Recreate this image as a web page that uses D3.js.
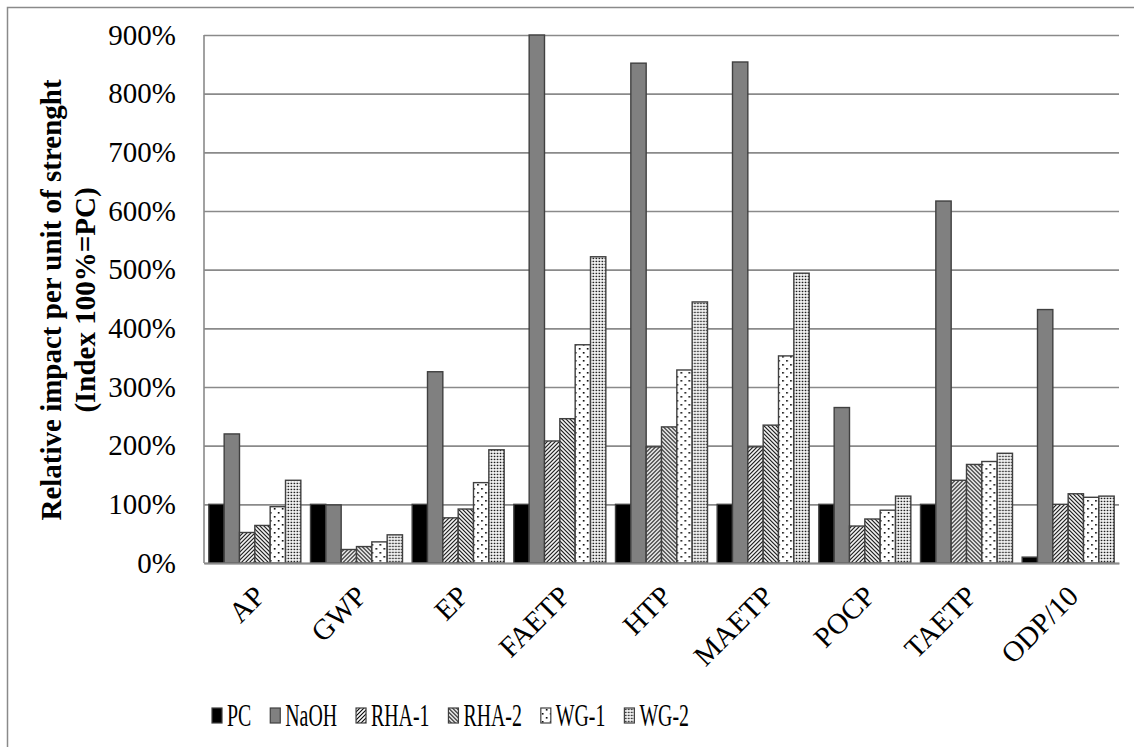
<!DOCTYPE html>
<html>
<head>
<meta charset="utf-8">
<script src="https://cdn.jsdelivr.net/npm/d3@7"></script>
<style>
  body { margin: 0; background: #fff; }
  text { font-family: "Liberation Serif", "Times New Roman", serif; fill: #000; }
</style>
</head>
<body>
<script>
// chart values
var categories = ["AP", "GWP", "EP", "FAETP", "HTP", "MAETP", "POCP", "TAETP", "ODP/10"];
var seriesNames = ["PC", "NaOH", "RHA-1", "RHA-2", "WG-1", "WG-2"];
var pcValues   = [100, 100, 100, 100, 100, 100, 100, 100, 10];
var naohValues = [220, 99, 326, 900, 852, 854, 265, 617, 432];
var rha1Values = [52, 23, 77, 208, 198, 198, 63, 141, 100];
var rha2Values = [64, 28, 92, 246, 232, 235, 75, 168, 118];
var wg1Values  = [96, 36, 137, 372, 329, 353, 90, 173, 112];
var wg2Values  = [141, 48, 193, 522, 445, 494, 114, 187, 114];
var yTicks = [0, 100, 200, 300, 400, 500, 600, 700, 800, 900];

var seriesValues = [pcValues, naohValues, rha1Values, rha2Values, wg1Values, wg2Values];
var fills = ["#000000", "#808080", "url(#rha1)", "url(#rha2)", "url(#wg1)", "url(#wg2)"];

var margin = {top: 35, right: 15, bottom: 184, left: 204};
var width = 1134 - margin.left - margin.right;
var height = 747 - margin.top - margin.bottom;

var root = d3.select("body")
  .append("svg")
    .attr("width", 1134)
    .attr("height", 747);

// patterns for the hatched / dotted series
var defs = root.append("defs");

var p1 = defs.append("pattern").attr("id", "rha1")
  .attr("patternUnits", "userSpaceOnUse").attr("width", 4).attr("height", 4);
p1.append("rect").attr("width", 4).attr("height", 4).attr("fill", "#fff");
p1.append("path").attr("d", "M-1,1 l2,-2 M0,4 l4,-4 M3,5 l2,-2")
  .attr("stroke", "#000").attr("stroke-width", 1.1);

var p2 = defs.append("pattern").attr("id", "rha2")
  .attr("patternUnits", "userSpaceOnUse").attr("width", 4).attr("height", 4);
p2.append("rect").attr("width", 4).attr("height", 4).attr("fill", "#fff");
p2.append("path").attr("d", "M-1,3 l2,2 M0,0 l4,4 M3,-1 l2,2")
  .attr("stroke", "#000").attr("stroke-width", 1.1);

var p3 = defs.append("pattern").attr("id", "wg1")
  .attr("patternUnits", "userSpaceOnUse").attr("width", 8).attr("height", 8);
p3.append("rect").attr("width", 8).attr("height", 8).attr("fill", "#fff");
p3.append("rect").attr("x", 1).attr("y", 1).attr("width", 1.6).attr("height", 1.6).attr("fill", "#000");
p3.append("rect").attr("x", 5).attr("y", 5).attr("width", 1.6).attr("height", 1.6).attr("fill", "#000");

var p4 = defs.append("pattern").attr("id", "wg2")
  .attr("patternUnits", "userSpaceOnUse").attr("width", 3).attr("height", 3);
p4.append("rect").attr("width", 3).attr("height", 3).attr("fill", "#fff");
p4.append("rect").attr("x", 0.7).attr("y", 0.7).attr("width", 1.5).attr("height", 1.5).attr("fill", "#000");

// outer chart frame (right and bottom edges fall outside the picture)
root.append("rect")
  .attr("x", 7.5).attr("y", 7.5)
  .attr("width", 1300).attr("height", 900)
  .attr("fill", "none")
  .attr("stroke", "#8a8a8a")
  .attr("stroke-width", 1.5);

var svg = root.append("g")
  .attr("transform", "translate(" + margin.left + "," + margin.top + ")");

// X scales: one band per category, one sub band per series
var x = d3.scaleBand()
  .domain(categories)
  .range([0, width])
  .paddingInner(0.095)
  .paddingOuter(0.0475);

var x1 = d3.scaleBand()
  .domain(seriesNames)
  .range([0, x.bandwidth()])
  .padding(0);

// Y scale
var y = d3.scaleLinear()
  .domain([0, 900])
  .range([height, 0]);

// gridlines + tick labels
var yAxis = svg.append("g")
  .call(d3.axisLeft(y)
    .tickValues(yTicks)
    .tickSize(-width)
    .tickPadding(28)
    .tickFormat((d) => d + "%"));
yAxis.select(".domain").remove();
yAxis.selectAll(".tick line")
  .attr("stroke", "#8a8a8a")
  .attr("stroke-width", 1.6);
yAxis.selectAll(".tick text")
  .style("font-family", "Liberation Serif")
  .style("font-size", "29px")
  .attr("fill", "#000");

// left axis line
svg.append("line")
  .attr("x1", 0).attr("x2", 0)
  .attr("y1", 0).attr("y2", height)
  .attr("stroke", "#8a8a8a")
  .attr("stroke-width", 1.6);

// bars
var groups = svg.append("g")
  .selectAll("g")
  .data(categories)
  .enter()
    .append("g")
    .attr("transform", (d) => "translate(" + x(d) + ",0)");

groups.selectAll("rect")
  .data((d, i) => seriesNames.map((s, j) => ({ series: s, idx: j, value: seriesValues[j][i] })))
  .enter()
    .append("rect")
    .attr("x", (d) => x1(d.series))
    .attr("y", (d) => y(d.value))
    .attr("width", x1.bandwidth())
    .attr("height", (d) => y(0) - y(d.value))
    .attr("fill", (d) => fills[d.idx])
    .attr("stroke", "#404040")
    .attr("stroke-width", 1.4);

// bottom axis
var xAxis = svg.append("g")
  .attr("transform", "translate(0," + height + ")")
  .call(d3.axisBottom(x).tickSize(0).tickFormat(""));
xAxis.select(".domain")
  .attr("stroke", "#8a8a8a")
  .attr("stroke-width", 2);

// rotated category labels
svg.append("g")
  .selectAll("text")
  .data(categories)
  .enter()
    .append("text")
    .attr("transform", (d) => "translate(" + (x(d) + x.bandwidth() / 2 - 2) + "," + (height + 21) + ") rotate(-45)")
    .attr("dy", "0.68em")
    .style("text-anchor", "end")
    .style("font-size", "29px")
    .text((d) => d);

// y axis title
var title = root.append("text")
  .attr("transform", "rotate(-90)")
  .style("text-anchor", "middle")
  .style("font-weight", "bold")
  .style("font-size", "29px");
title.append("tspan")
  .attr("x", -300).attr("y", 61)
  .text("Relative impact per unit of strenght");
title.append("tspan")
  .attr("x", -300).attr("y", 95)
  .text("(Index 100%=PC)");

// legend
var legend = root.append("g");
var lx = 212;
seriesNames.forEach((s, i) => {
  var item = legend.append("g").attr("transform", "translate(" + lx + ",0)");
  item.append("rect")
    .attr("x", 0).attr("y", 708)
    .attr("width", 10).attr("height", 15)
    .attr("fill", fills[i])
    .attr("stroke", "#404040")
    .attr("stroke-width", 1.2);
  var t = item.append("text")
    .attr("transform", "translate(15,726) scale(0.62,1)")
    .style("font-size", "32px")
    .text(s);
  lx += 15 + t.node().getComputedTextLength() * 0.62 + 19;
});
</script>
</body>
</html>
